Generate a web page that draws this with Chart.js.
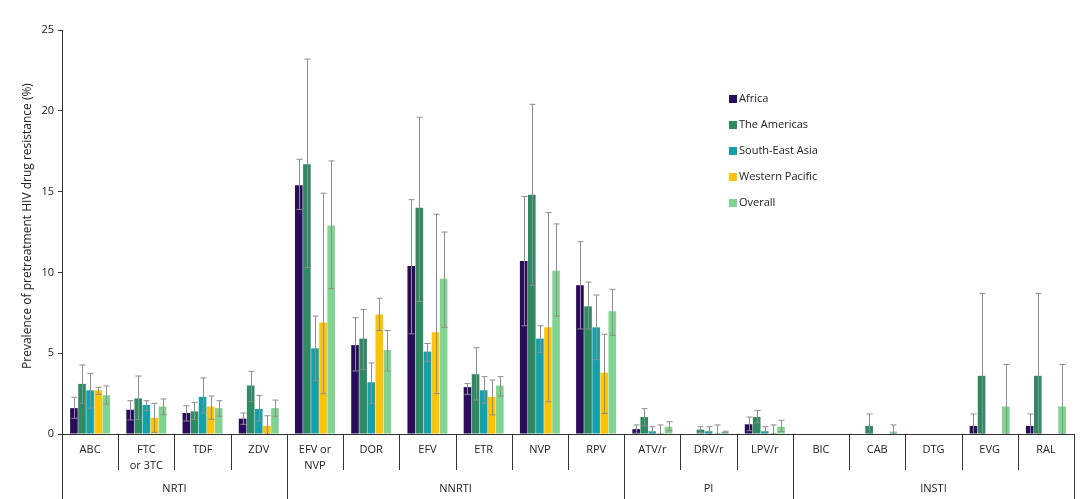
<!DOCTYPE html>
<html>
<head>
<meta charset="utf-8">
<script src="https://cdn.jsdelivr.net/npm/chart.js@4"></script>
<style>
html,body{margin:0;padding:0;background:#fff;}
#wrap{width:1080px;height:499px;position:relative;}
</style>
</head>
<body>
<div id="wrap"><canvas id="c" width="1080" height="499"></canvas></div>
<script>
const categories = [["ABC"],["FTC","or 3TC"],["TDF"],["ZDV"],["EFV or","NVP"],["DOR"],["EFV"],["ETR"],["NVP"],["RPV"],["ATV/r"],["DRV/r"],["LPV/r"],["BIC"],["CAB"],["DTG"],["EVG"],["RAL"]];
const groups = [{name:"NRTI",from:0,to:3},{name:"NNRTI",from:4,to:9},{name:"PI",from:10,to:12},{name:"INSTI",from:13,to:17}];
const seriesNames = ["Africa","The Americas","South-East Asia","Western Pacific","Overall"];
const seriesColors = ["#2b0b5c","#2f8a63","#16a0aa","#fcc30b","#80d391"];

const africa   = [1.6,1.5,1.3,0.95,15.4,5.5,10.4,2.9,10.7,9.2,0.3,0,0.6,0,0,0,0.5,0.5];
const americas = [3.1,2.2,1.4,3.0,16.7,5.9,14.0,3.7,14.8,7.9,1.05,0.27,1.05,0,0.5,0,3.6,3.6];
const seAsia   = [2.7,1.8,2.3,1.55,5.3,3.2,5.1,2.7,5.9,6.6,0.17,0.17,0.17,0,0,0,0,0];
const wPacific = [2.7,1.0,1.7,0.5,6.9,7.4,6.3,2.3,6.6,3.8,0,0,0,0,0,0,0,0];
const overall  = [2.4,1.7,1.6,1.6,12.9,5.2,9.6,3.0,10.1,7.6,0.45,0.12,0.45,0,0.15,0,1.7,1.7];

const africaLow   = [0.97,0.87,0.8,0.6,13.9,3.9,6.2,2.45,6.7,6.5,0.05,null,0.2,null,null,null,0,0];
const africaHigh  = [2.27,2.06,1.75,1.3,17.0,7.2,14.5,3.13,14.7,11.9,0.56,null,1.05,null,null,null,1.24,1.24];
const americasLow = [1.9,0.9,0.9,2.0,10.3,4.0,8.2,2.1,9.2,6.5,0.5,0.1,0.7,null,0,null,0,0];
const americasHigh= [4.27,3.59,1.96,3.88,23.2,7.7,19.6,5.34,20.4,9.4,1.57,0.45,1.46,null,1.24,null,8.7,8.7];
const seAsiaLow   = [1.6,1.45,1.3,0.8,3.3,1.9,4.5,1.9,5.05,4.6,0,0,0,null,null,null,null,null];
const seAsiaHigh  = [3.75,2.06,3.47,2.39,7.3,4.4,5.6,3.55,6.7,8.6,0.45,0.45,0.45,null,null,null,null,null];
const wPacificLow = [2.45,0.1,0.91,0,2.5,6.4,2.5,1.18,2.0,1.28,0,0,0,null,null,null,null,null];
const wPacificHigh= [2.89,1.9,2.35,1.13,14.9,8.4,13.6,3.34,13.7,6.17,0.56,0.56,0.56,null,null,null,null,null];
const overallLow  = [1.85,1.2,1.1,1.1,9.0,3.9,6.6,2.35,7.3,6.1,0.2,0.07,0.15,null,0,null,0,0];
const overallHigh = [2.97,2.17,2.06,2.1,16.9,6.4,12.5,3.55,13.0,8.95,0.76,0.17,0.85,null,0.56,null,4.3,4.3];

const yTicks = [0,5,10,15,20,25];
const yTitle = "Prevalence of pretreatment HIV drug resistance (%)";

const values = [africa,americas,seAsia,wPacific,overall];
const lows = [africaLow,americasLow,seAsiaLow,wPacificLow,overallLow];
const highs = [africaHigh,americasHigh,seAsiaHigh,wPacificHigh,overallHigh];

const FONT = "'Open Sans', 'Liberation Sans', sans-serif";
const TXT = "#222";

const errorBars = {
  id:'errorBars',
  afterDatasetsDraw(chart){
    const ctx = chart.ctx, y = chart.scales.y;
    ctx.save();
    ctx.strokeStyle = "#8e8e8e";
    ctx.lineWidth = 1;
    chart.data.datasets.forEach((ds,i)=>{
      const meta = chart.getDatasetMeta(i);
      meta.data.forEach((el,j)=>{
        const lo = lows[i][j], hi = highs[i][j];
        if(lo==null||hi==null) return;
        const x = Math.round(el.x)+0.5;
        const y1 = y.getPixelForValue(lo), y2 = y.getPixelForValue(hi);
        ctx.beginPath();
        ctx.moveTo(x,y1); ctx.lineTo(x,y2);
        ctx.moveTo(x-3,y1); ctx.lineTo(x+3,y1);
        ctx.moveTo(x-3,y2); ctx.lineTo(x+3,y2);
        ctx.stroke();
      });
    });
    ctx.restore();
  }
};

const axisDecor = {
  id:'axisDecor',
  afterDraw(chart){
    const ctx = chart.ctx, xs = chart.scales.x, ys = chart.scales.y, ca = chart.chartArea;
    const n = categories.length;
    const step = xs.getPixelForValue(1)-xs.getPixelForValue(0);
    const bound = k => xs.getPixelForValue(0) + (k-0.5)*step;
    const groupBounds = new Set();
    groups.forEach(g=>{groupBounds.add(g.from); groupBounds.add(g.to+1);});
    ctx.save();
    ctx.strokeStyle = "#333";
    ctx.lineWidth = 1;
    ctx.beginPath();
    ctx.moveTo(ca.left, Math.round(ca.bottom)+0.5);
    ctx.lineTo(bound(n), Math.round(ca.bottom)+0.5);
    ctx.stroke();
    for(let k=0;k<=n;k++){
      const x = Math.round(bound(k))+0.5;
      const yEnd = groupBounds.has(k) ? 499 : ca.bottom+36;
      ctx.beginPath();
      ctx.moveTo(x, ca.bottom);
      ctx.lineTo(x, yEnd);
      ctx.stroke();
    }
    ctx.fillStyle = TXT;
    ctx.font = "11px " + FONT;
    ctx.textAlign = "center";
    ctx.textBaseline = "middle";
    categories.forEach((lab,i)=>{
      const x = xs.getPixelForValue(i);
      lab.forEach((line,li)=>{
        ctx.fillText(line, x, ca.bottom + 16 + li*16);
      });
    });
    groups.forEach(g=>{
      const x = (bound(g.from)+bound(g.to+1))/2;
      ctx.fillText(g.name, x, ca.bottom + 55);
    });
    // y title
    ctx.save();
    ctx.translate(28, (ys.getPixelForValue(0)+ys.getPixelForValue(25))/2 - 6);
    ctx.rotate(-Math.PI/2);
    ctx.font = "12px " + FONT;
    ctx.fillText(yTitle, 0, 0);
    ctx.restore();
    // legend
    const lx = 729, ly0 = 99, gap = 26;
    ctx.textAlign = "left";
    seriesNames.forEach((nm,i)=>{
      const yy = ly0 + i*gap;
      ctx.fillStyle = seriesColors[i];
      ctx.fillRect(lx, yy-4, 8, 8);
      ctx.fillStyle = TXT;
      ctx.fillText(nm, lx+10, yy);
    });
    ctx.restore();
  }
};

const ctx = document.getElementById('c').getContext('2d');
new Chart(ctx, {
  type:'bar',
  data:{
    labels: categories.map(c=>c.join(' ')),
    datasets: seriesNames.map((nm,i)=>({
      label:nm,
      data:values[i],
      backgroundColor:seriesColors[i],
      borderWidth:0,
      categoryPercentage:0.72,
      barPercentage:0.94
    }))
  },
  options:{
    responsive:false,
    animation:false,
    devicePixelRatio:1,
    layout:{padding:{top:30,right:6,left:0,bottom:0}},
    plugins:{legend:{display:false},tooltip:{enabled:false}},
    scales:{
      x:{
        ticks:{display:false},
        grid:{display:false},
        border:{display:false},
        afterFit(s){ s.height = 65; }
      },
      y:{
        min:0,max:25,
        afterBuildTicks(s){ s.ticks = yTicks.map(v=>({value:v})); },
        ticks:{color:TXT,font:{size:11,family:FONT},padding:4},
        grid:{display:true,drawOnChartArea:false,drawTicks:true,tickLength:4,color:"#333"},
        border:{display:true,color:"#333"},
        title:{display:false},
        afterFit(s){ s.width = 62; }
      }
    }
  },
  plugins:[errorBars,axisDecor]
});
</script>
</body>
</html>
